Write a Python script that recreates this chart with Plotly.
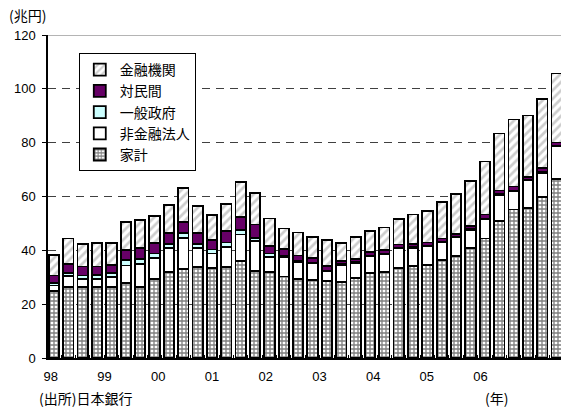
import plotly.graph_objects as go

# Quarterly periods, 1998Q1 - 2006Q4
quarters = [f"{y:02d}Q{q}" for y in [98, 99, 0, 1, 2, 3, 4, 5, 6] for q in range(1, 5)]
year_labels = ["98", "99", "00", "01", "02", "03", "04", "05", "06"]

# 兆円, by holder
household = [24.8, 26.5, 26.5, 26.3, 26.5, 27.9, 26.5, 29.4, 31.9, 33.2, 33.8, 33.5,
             33.8, 36.0, 32.3, 31.9, 30.3, 29.4, 29.0, 28.5, 28.2, 29.7, 31.5, 31.9,
             33.5, 34.1, 34.6, 36.3, 37.9, 40.9, 44.4, 51.0, 55.2, 55.8, 59.9, 66.4]
nonfinancial = [2.1, 4.1, 2.9, 3.1, 3.6, 6.5, 8.3, 7.9, 9.1, 11.5, 7.2, 5.3,
                7.4, 9.9, 11.1, 5.6, 7.2, 6.4, 6.2, 3.8, 6.4, 5.7, 6.4, 6.7,
                7.3, 6.9, 6.8, 6.6, 6.9, 6.8, 7.2, 9.7, 6.8, 10.2, 8.9, 12.3]
government = [0.9, 0.9, 1.25, 1.5, 1.4, 1.9, 2.0, 1.5, 1.5, 1.8, 1.5, 1.5,
              1.7, 1.6, 1.3, 1.3, 0.3, 0.3, 0.2, 0.2, 0.2, 0.2, 0.2, 0.2,
              0.2, 0.2, 0.2, 0.2, 0.2, 0.2, 0.2, 0.2, 0.2, 0.2, 0.2, 0.2]
private_sector = [2.85, 3.5, 3.35, 3.1, 3.2, 3.7, 4.2, 3.9, 4.0, 4.1, 4.0, 3.4,
                  4.2, 5.0, 4.9, 2.7, 2.6, 2.0, 1.9, 1.7, 1.2, 1.3, 1.3, 1.2,
                  1.2, 1.3, 1.3, 1.3, 1.2, 1.2, 1.5, 1.3, 1.5, 1.0, 1.5, 1.2]
financial = [7.75, 9.4, 8.5, 8.7, 8.1, 10.6, 10.2, 10.1, 10.3, 12.5, 9.9, 9.4,
             10.1, 12.8, 11.6, 10.3, 7.7, 8.5, 7.7, 9.5, 6.7, 8.1, 7.7, 8.5,
             9.3, 10.8, 11.7, 13.7, 14.7, 16.7, 19.7, 21.2, 24.9, 22.9, 25.6, 25.6]

x = list(range(len(quarters)))
FONT = "Liberation Sans, Arial, Noto Sans CJK JP"
outline = dict(color="black", width=1.8)

series = [
    ("家計", household, dict(color="white", line=outline,
                              pattern=dict(shape="+", size=4, solidity=0.55,
                                           fgcolor="black", bgcolor="white"))),
    ("非金融法人", nonfinancial, dict(color="white", line=outline)),
    ("一般政府", government, dict(color="#ccffff", line=outline)),
    ("対民間", private_sector, dict(color="#660066", line=outline)),
    ("金融機関", financial, dict(color="white", line=outline,
                                  pattern=dict(shape="/", size=6, solidity=0.45,
                                               fgcolor="#9c9c9c", bgcolor="white"))),
]

fig = go.Figure()
for name, vals, marker in series:
    fig.add_trace(go.Bar(x=x, y=vals, name=name, marker=marker, width=0.72,
                         customdata=quarters))

# Year label positions along the quarter axis
year_pos = [-0.22 + 3.74 * i for i in range(len(year_labels))]

fig.update_layout(
    width=561, height=408,
    margin=dict(l=48, r=0, t=35, b=50),
    barmode="stack",
    plot_bgcolor="white", paper_bgcolor="white",
    font=dict(family=FONT, size=13, color="black"),
    showlegend=True,
    legend=dict(x=0.06, y=0.944, xanchor="left", yanchor="top",
                bgcolor="white", bordercolor="black", borderwidth=1,
                traceorder="reversed", itemwidth=30,
                font=dict(family="Noto Sans CJK JP", size=14, color="black")),
    xaxis=dict(range=[-0.418, 35.30], showline=True, linecolor="black", linewidth=1.5,
               tickmode="array", tickvals=year_pos, ticktext=year_labels,
               ticks="", showgrid=False, zeroline=False,
               tickfont=dict(size=13), ticklabelstandoff=6,
               minor=dict(ticks="inside", ticklen=3, tickcolor="black", tickwidth=1,
                          tickmode="linear", tick0=-0.5, dtick=1, showgrid=False)),
    yaxis=dict(range=[0, 120], tickmode="array", tickvals=list(range(0, 121, 20)),
               showline=True, linecolor="black", linewidth=1.5,
               ticks="outside", ticklen=4, tickcolor="black",
               showgrid=True, gridcolor="#404040", gridwidth=1, griddash="8px,6px",
               zeroline=False, tickfont=dict(size=13), ticklabelstandoff=4),
)

# Top frame line at 120
fig.add_shape(type="line", xref="paper", yref="y", x0=0, x1=1, y0=120, y1=120,
              line=dict(color="#b4b4b4", width=2), layer="above")

jp = dict(family="Noto Sans CJK JP", size=14, color="black")
fig.add_annotation(text="(兆円)", xref="paper", yref="paper", x=-0.08, y=1.062,
                   xanchor="left", yanchor="middle", showarrow=False, font=jp)
fig.add_annotation(text="(出所)日本銀行", xref="paper", yref="paper", x=-0.022, y=-0.124,
                   xanchor="left", yanchor="middle", showarrow=False, font=jp)
fig.add_annotation(text="(年)", xref="paper", yref="paper", x=0.875, y=-0.124,
                   xanchor="center", yanchor="middle", showarrow=False, font=jp)

fig.write_html("out.html")
